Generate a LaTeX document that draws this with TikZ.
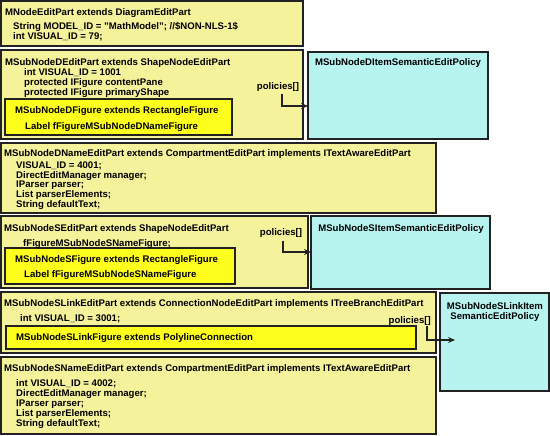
\documentclass[tikz,border=0pt]{standalone}
\usepackage{fontspec}
\setmainfont{Liberation Sans}
\usepackage{tikz}
\usetikzlibrary{arrows.meta}
\definecolor{partcol}{HTML}{F5F29C}
\definecolor{figcol}{HTML}{FFFF1E}
\definecolor{polcol}{HTML}{B8F4EF}
\definecolor{edgecol}{HTML}{222222}

\begin{document}
\begin{tikzpicture}[x=1pt,y=-1pt,>={Stealth[length=7pt,width=6pt,inset=2.5pt]},
  box/.style={draw=edgecol,line width=1.6pt,anchor=north west,inner sep=0pt,outer sep=0pt},
  part/.style={box,fill=partcol},
  fig/.style={box,fill=figcol},
  pol/.style={box,fill=polcol},
  txt/.style={anchor=base west,inner sep=0pt,align=left,font=\bfseries\fontsize{9.6}{9.8}\selectfont},
  link/.style={->,draw=edgecol,line width=1.2pt}]

\useasboundingbox (0,0) rectangle (550,436);

\node[part,minimum width=302,minimum height=45] (mnode) at (1,1) {};
\node[part,minimum width=302,minimum height=89] (dpart) at (1,50) {};
\node[fig,minimum width=227,minimum height=36] (dfig) at (5,99) {};
\node[pol,minimum width=180,minimum height=87] (dpol) at (308,52) {};
\node[part,minimum width=435,minimum height=70] (dname) at (1,143) {};
\node[part,minimum width=307,minimum height=72] (spart) at (1,216) {};
\node[fig,minimum width=230,minimum height=36] (sfig) at (5,248) {};
\node[pol,minimum width=179,minimum height=73] (spol) at (311,216) {};
\node[part,minimum width=435,minimum height=61] (slink) at (1,292) {};
\node[fig,minimum width=410,minimum height=23] (lfig) at (6,326) {};
\node[pol,minimum width=109,minimum height=98] (lpol) at (440,293) {};
\node[part,minimum width=435,minimum height=77] (sname) at (1,357) {};

% multi-line texts sit on their last baseline
\node[txt] (mnodeT) at (5,15.4) {MNodeEditPart extends DiagramEditPart};
\node[txt] (mnodeA) at (13,39.2) {String MODEL\_ID = "MathModel"; //\$NON-NLS-1\$\\int VISUAL\_ID = 79;};

\node[txt] (dpartT) at (5,65.4) {MSubNodeDEditPart extends ShapeNodeEditPart};
\node[txt] (dpartA) at (24,95.4) {int VISUAL\_ID = 1001\\protected IFigure contentPane\\protected IFigure primaryShape};
\node[txt] (dfigT) at (15,113.4) {MSubNodeDFigure extends RectangleFigure};
\node[txt] (dfigA) at (25,129.4) {Label fFigureMSubNodeDNameFigure};
\node[txt,anchor=base] (pol1) at (278,89.4) {policies[]};
\node[txt,anchor=base] (dpolT) at (398,65.4) {MSubNodeDItemSemanticEditPolicy};

\node[txt] (dnameT) at (4,156.7) {MSubNodeDNameEditPart extends CompartmentEditPart implements ITextAwareEditPart};
\node[txt] (dnameA) at (16,207.4) {VISUAL\_ID = 4001;\\DirectEditManager manager;\\IParser parser;\\List parserElements;\\String defaultText;};

\node[txt] (spartT) at (4,231) {MSubNodeSEditPart extends ShapeNodeEditPart};
\node[txt] (spartA) at (23,246.7) {fFigureMSubNodeSNameFigure;};
\node[txt] (sfigT) at (15,262.4) {MSubNodeSFigure extends RectangleFigure};
\node[txt] (sfigA) at (24,277.4) {Label fFigureMSubNodeSNameFigure};
\node[txt,anchor=base] (pol2) at (281,235.4) {policies[]};
\node[txt,anchor=base] (spolT) at (401,231.4) {MSubNodeSItemSemanticEditPolicy};

\node[txt] (slinkT) at (4,306.4) {MSubNodeSLinkEditPart extends ConnectionNodeEditPart implements ITreeBranchEditPart};
\node[txt] (slinkA) at (20,321.4) {int VISUAL\_ID = 3001;};
\node[txt] (lfigT) at (16,340.4) {MSubNodeSLinkFigure extends PolylineConnection};
\node[txt,anchor=base east] (pol3) at (431,323.4) {policies[]};
\node[txt,anchor=base,align=center] (lpolT) at (495,319.4) {MSubNodeSLinkItem\\SemanticEditPolicy};

\node[txt] (snameT) at (4,371) {MSubNodeSNameEditPart extends CompartmentEditPart implements ITextAwareEditPart};
\node[txt] (snameA) at (16,426.1) {int VISUAL\_ID = 4002;\\DirectEditManager manager;\\IParser parser;\\List parserElements;\\String defaultText;};

\draw[link] ([xshift=4pt,yshift=-2pt]pol1.south) |- (dpol.west |- 0,106);
\draw[link] ([xshift=2pt,yshift=-3pt]pol2.south) |- (spol.west |- 0,252);
\draw[link,shorten >=-15pt] ([xshift=-4pt]pol3.south east) |- (lpol.west |- 0,340);

\end{tikzpicture}
\end{document}
